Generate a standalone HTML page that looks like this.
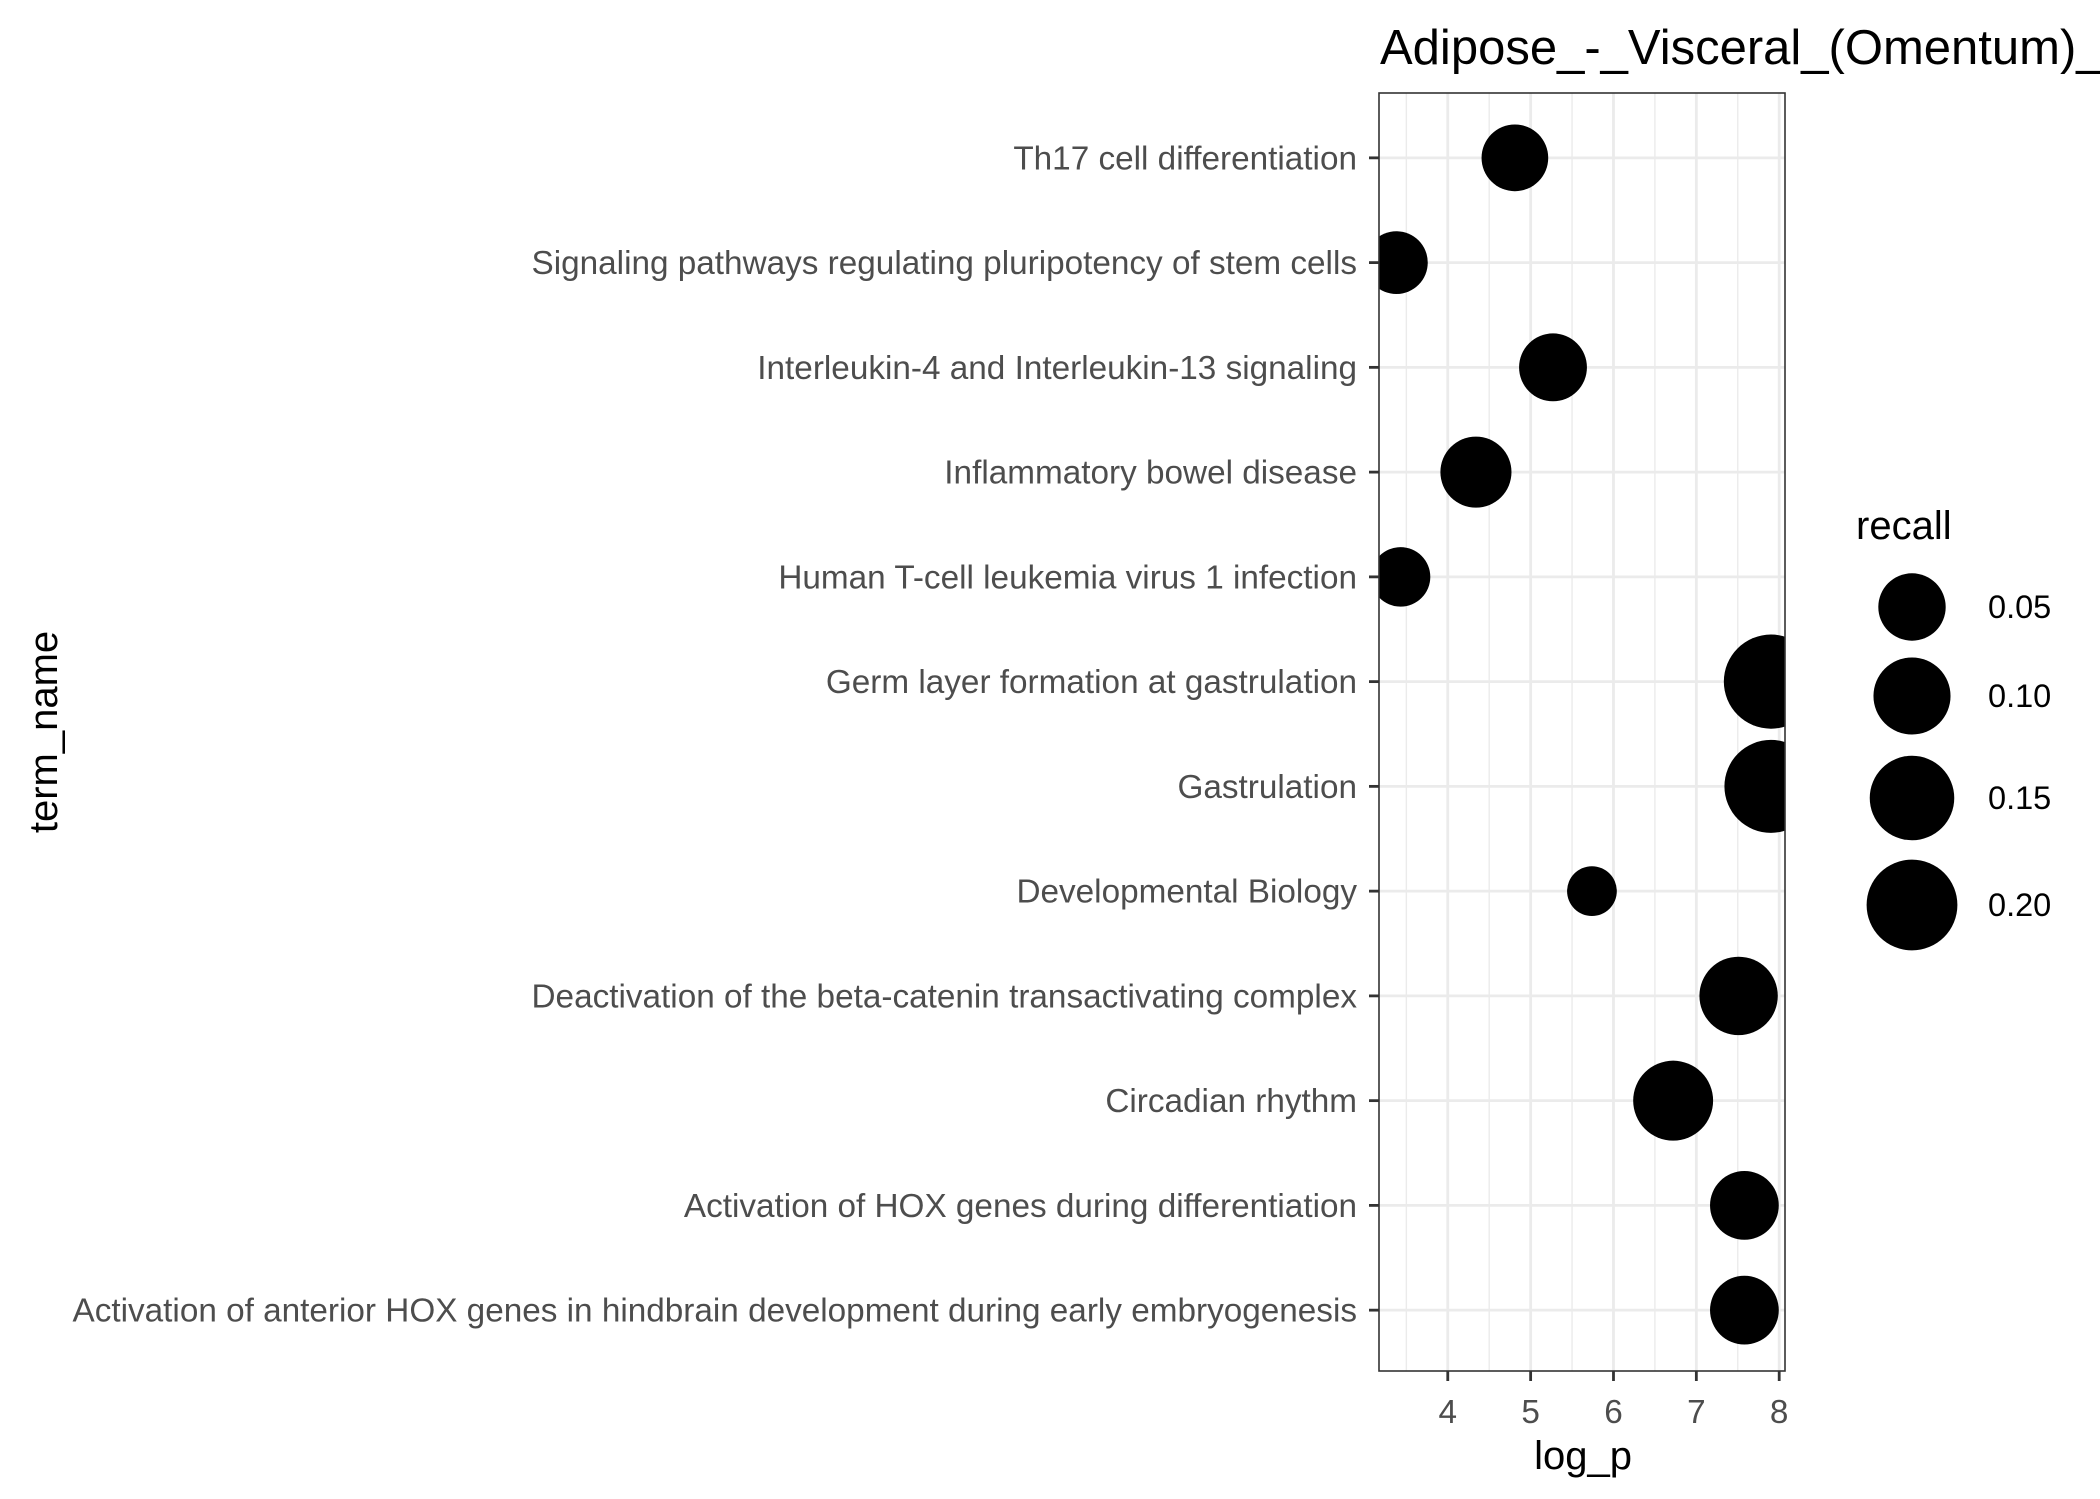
<!DOCTYPE html>
<html><head><meta charset="utf-8"><style>
html,body{margin:0;padding:0;background:#fff;}
svg{display:block;font-family:"Liberation Sans",Arial,sans-serif;}
</style></head><body>
<svg id="chart" width="2100" height="1499" viewBox="0 0 2100 1499">
<defs><clipPath id="pclip"><rect x="1379" y="93" width="406" height="1278"/></clipPath></defs>
<text x="1380" y="64" font-size="49" fill="#000">Adipose_-_Visceral_(Omentum)_</text>
<rect x="1379" y="93" width="406" height="1278" fill="#fff"/>
<g id="grid"></g>
<g id="points" clip-path="url(#pclip)"></g>
<rect x="1379" y="93" width="406" height="1278" fill="none" stroke="#333" stroke-width="1.6"/>
<g id="yaxis"></g>
<g id="xaxis"></g>
<text x="1583" y="1469" font-size="40" text-anchor="middle" fill="#000">log_p</text>
<text transform="translate(57,732) rotate(-90)" font-size="40" text-anchor="middle" fill="#000">term_name</text>
<g id="legend">
<text x="1856" y="539" font-size="40" fill="#000">recall</text>
</g>
</svg>
<script>
const terms = ["Th17 cell differentiation","Signaling pathways regulating pluripotency of stem cells","Interleukin-4 and Interleukin-13 signaling","Inflammatory bowel disease","Human T-cell leukemia virus 1 infection","Germ layer formation at gastrulation","Gastrulation","Developmental Biology","Deactivation of the beta-catenin transactivating complex","Circadian rhythm","Activation of HOX genes during differentiation","Activation of anterior HOX genes in hindbrain development during early embryogenesis"];
const logP = [4.81,3.38,5.27,4.34,3.43,7.90,7.90,5.74,7.51,6.72,7.58,7.58];
const recall = [0.047,0.032,0.052,0.067,0.022,0.230,0.219,0.003,0.108,0.118,0.056,0.056];
const xTicks = [4,5,6,7,8];
const legendVals = [0.05,0.10,0.15,0.20];
const legendLabels = ["0.05","0.10","0.15","0.20"];

const NS="http://www.w3.org/2000/svg";
const PL=1379,PR=1785,PT=93,PB=1371;
const xMin=3.17,xMax=8.07;
function xs(v){return PL+(v-xMin)/(xMax-xMin)*(PR-PL);}
const step=(PB-PT)/(terms.length-1+1.2);
function ys(i){return PT+step*(0.6+i)+2;}
function rs(v){return 22+52.3*Math.sqrt(Math.max(v,0));}
function mk(tag,attrs,parent){const e=document.createElementNS(NS,tag);for(const k in attrs)e.setAttribute(k,attrs[k]);parent.appendChild(e);return e;}

const grid=document.getElementById('grid');
for(let m=3.5;m<8.07;m+=1){
  const l=mk('line',{x1:xs(m),x2:xs(m),y1:PT,y2:PB,stroke:'#ebebeb','stroke-width':1.4},grid);
  
  
}
xTicks.forEach(t=>{
  const l=mk('line',{x1:xs(t),x2:xs(t),y1:PT,y2:PB,stroke:'#ebebeb','stroke-width':2.8},grid);
  
  
});
terms.forEach((t,i)=>{
  const l=mk('line',{x1:PL,x2:PR,y1:ys(i),y2:ys(i),stroke:'#ebebeb','stroke-width':2.8},grid);
  
  
});

const pts=document.getElementById('points');
terms.forEach((t,i)=>{
  const c=mk('circle',{cx:xs(logP[i]),cy:ys(i),r:rs(recall[i]),fill:'#000'},pts);
  
  
});

const ya=document.getElementById('yaxis');
terms.forEach((t,i)=>{
  const tk=mk('line',{x1:PL-10,x2:PL,y1:ys(i),y2:ys(i),stroke:'#333','stroke-width':2.8},ya);
  
  
  const tx=mk('text',{x:1357,y:ys(i)+11.5,'font-size':33.3,'text-anchor':'end',fill:'#4d4d4d'},ya);
  tx.textContent=t;
  
  
});
const xa=document.getElementById('xaxis');
xTicks.forEach(t=>{
  const tk=mk('line',{x1:xs(t),x2:xs(t),y1:PB,y2:PB+10,stroke:'#333','stroke-width':2.8},xa);
  
  
  const tx=mk('text',{x:xs(t),y:1423,'font-size':33.3,'text-anchor':'middle',fill:'#4d4d4d'},xa);
  tx.textContent=String(t);
  
  
});

const lg=document.getElementById('legend');
const lgY=[607,696,798,905];
legendVals.forEach((v,i)=>{
  const c=mk('circle',{cx:1912,cy:lgY[i],r:rs(v),fill:'#000'},lg);
  
  
  const tx=mk('text',{x:1988,y:lgY[i]+11,'font-size':32.5,fill:'#000'},lg);
  tx.textContent=legendLabels[i];
  
  
});
</script>
</body></html>
